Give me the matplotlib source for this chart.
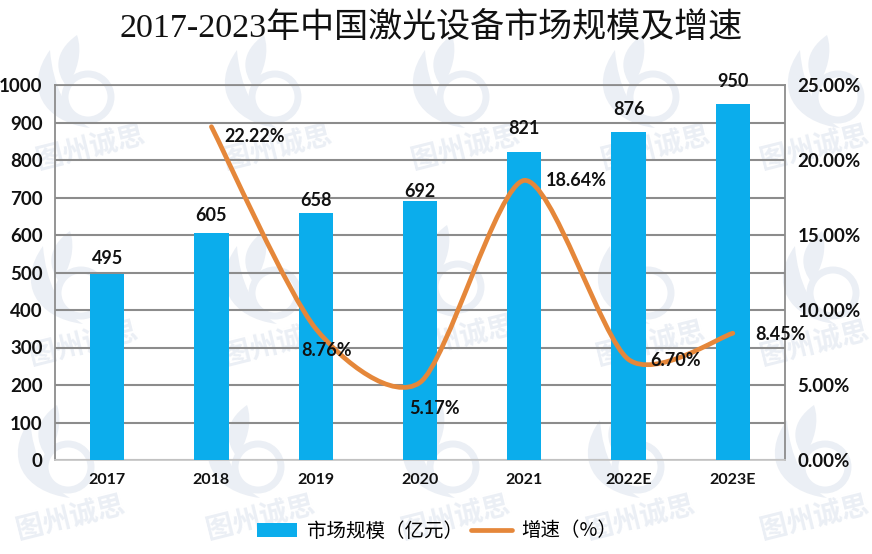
import matplotlib
matplotlib.use("Agg")
import matplotlib.pyplot as plt
from matplotlib.lines import Line2D
from matplotlib.patches import Circle, Patch, PathPatch
from matplotlib.path import Path

years = ["2017", "2018", "2019", "2020", "2021", "2022E", "2023E"]
market_size = [495, 605, 658, 692, 821, 876, 950]
growth_years = [1, 2, 3, 4, 5, 6]
growth = [22.22, 8.76, 5.17, 18.64, 6.70, 8.45]
left_ticks = [0, 100, 200, 300, 400, 500, 600, 700, 800, 900, 1000]
right_ticks = [0, 5, 10, 15, 20, 25]

# pixel offsets of the labels from their bars and points
size_offsets = [7, 9, 4, 1, 15, 14, 14]
growth_offsets = [(43, -10), (11, -22), (14, -26), (52, 0), (47, -1), (48, -1)]

# watermark anchors in image pixels
logo_spots = [(75, 92), (262, 92), (450, 92), (640, 92), (825, 92),
              (68, 288), (262, 288), (445, 282), (635, 288), (820, 288),
              (55, 462), (245, 462), (440, 462), (625, 462), (812, 462)]

W, H = 872, 554
BLUE = "#0badec"
ORANGE = "#e5873a"
GREY = "#8c8c8c"
TEXT = "#111111"
MARK = "#ebeff5"
TANGENT = 0.13

plt.rcParams['font.family'] = ['Lato', 'Noto Sans CJK SC', 'DejaVu Sans']


def smooth_path(xs, ys):
    # smoothed line through the points, a bit tighter than plain Catmull-Rom
    verts = [(xs[0], ys[0])]
    codes = [Path.MOVETO]
    n = len(xs)
    for i in range(n - 1):
        x0, y0 = xs[max(i - 1, 0)], ys[max(i - 1, 0)]
        x3, y3 = xs[min(i + 2, n - 1)], ys[min(i + 2, n - 1)]
        verts.append((xs[i] + (xs[i + 1] - x0) * TANGENT, ys[i] + (ys[i + 1] - y0) * TANGENT))
        verts.append((xs[i + 1] - (x3 - xs[i]) * TANGENT, ys[i + 1] - (y3 - ys[i]) * TANGENT))
        verts.append((xs[i + 1], ys[i + 1]))
        codes += [Path.CURVE4] * 3
    return Path(verts, codes)


def leaf(pts):
    codes = [Path.MOVETO] + [Path.CURVE4] * 6
    return PathPatch(Path(pts, codes), fc=MARK, ec='none')


def draw_watermark(fig):
    bg = fig.add_axes([0, 0, 1, 1], zorder=0)
    bg.set_xlim(0, W)
    bg.set_ylim(H, 0)
    bg.axis('off')
    for x, y in logo_spots:
        bg.add_patch(Circle((x + 13, y + 5), 23, fill=False, ec=MARK, lw=5))
        # outer crescent and the upright leaf
        bg.add_patch(leaf([(x - 25, y - 42), (x - 52, y - 5), (x - 32, y + 30), (x + 15, y + 36),
                           (x - 8, y + 22), (x - 22, y - 5), (x - 25, y - 42)]))
        bg.add_patch(leaf([(x + 2, y - 57), (x - 22, y - 40), (x - 20, y - 20), (x - 8, y - 5),
                           (x + 2, y - 20), (x + 8, y - 40), (x + 2, y - 57)]))
        # keep the mark text inside the picture at the right edge
        bg.text(min(x + 15, W - 58), y + 55, "图州诚思", fontsize=20, fontweight='bold',
                color=MARK, rotation=14, ha='center', va='center')


def main():
    fig = plt.figure(figsize=(W / 100, H / 100), dpi=100, facecolor='white')
    draw_watermark(fig)

    ax = fig.add_axes([55 / W, 1 - 460 / H, 730 / W, 375 / H], zorder=2)
    ax.patch.set_alpha(0)
    xs = list(range(len(years)))
    ax.bar(xs, market_size, width=0.33, color=BLUE, zorder=3)
    ax.set_xlim(-0.5, len(years) - 0.5)
    ax.set_ylim(0, 1000)
    ax.set_yticks(left_ticks)
    ax.set_xticks(xs, years)
    ax.grid(axis='y', color=GREY, lw=1.5, zorder=1)
    ax.set_axisbelow(True)
    ax.tick_params(length=0)
    ax.tick_params(axis='x', pad=9, labelsize=11.5, labelcolor=TEXT)
    ax.tick_params(axis='y', pad=9, labelsize=13.5, labelcolor=TEXT)
    for label in ax.get_xticklabels() + ax.get_yticklabels():
        label.set_fontweight('bold')
    for side in ['left', 'right', 'top']:
        ax.spines[side].set_color(GREY)
        ax.spines[side].set_linewidth(1.3)
    ax.spines['bottom'].set_color('#c8c8c8')
    ax.spines['bottom'].set_linewidth(1.3)

    for x, v, off in zip(xs, market_size, size_offsets):
        ax.annotate(str(v), (x, v), xytext=(0, off), textcoords='offset pixels',
                    ha='center', va='bottom', fontsize=13, fontweight='bold',
                    color=TEXT, zorder=6)

    ax2 = ax.twinx()
    ax2.set_zorder(3)
    ax2.patch.set_alpha(0)
    ax2.set_ylim(0, 25)
    ax2.set_yticks(right_ticks, [f"{t:.2f}%" for t in right_ticks])
    ax2.tick_params(length=0, pad=9, labelsize=13.5, labelcolor=TEXT)
    for label in ax2.get_yticklabels():
        label.set_fontweight('bold')
    for spine in ax2.spines.values():
        spine.set_visible(False)

    ax2.add_patch(PathPatch(smooth_path(growth_years, growth), fill=False,
                            ec=ORANGE, lw=3.4, capstyle='round', zorder=4))
    for x, v, off in zip(growth_years, growth, growth_offsets):
        ax2.annotate(f"{v:.2f}%", (x, v), xytext=off, textcoords='offset pixels',
                     ha='center', va='center', fontsize=13, fontweight='bold',
                     color=TEXT, zorder=6, annotation_clip=False)

    fig.text(431 / W, 1 - 28 / H, "2017-2023年中国激光设备市场规模及增速", fontsize=24.5,
             family=['Liberation Serif', 'Noto Sans CJK SC'], ha='center', va='center',
             color='#111111', zorder=5)

    handles = [Patch(facecolor=BLUE, edgecolor='none'),
               Line2D([0], [0], color=ORANGE, lw=3.4, solid_capstyle='round')]
    fig.legend(handles, ["市场规模（亿元）", "增速（%）"], loc='center',
               bbox_to_anchor=(437 / W, 1 - 531 / H), ncol=2, frameon=False,
               prop={'family': ['Noto Sans CJK SC', 'DejaVu Sans'], 'size': 14},
               handlelength=2.1, handleheight=0.7, handletextpad=0.5, columnspacing=0.4)

    fig.savefig("out.png", dpi=100)


if __name__ == "__main__":
    main()
